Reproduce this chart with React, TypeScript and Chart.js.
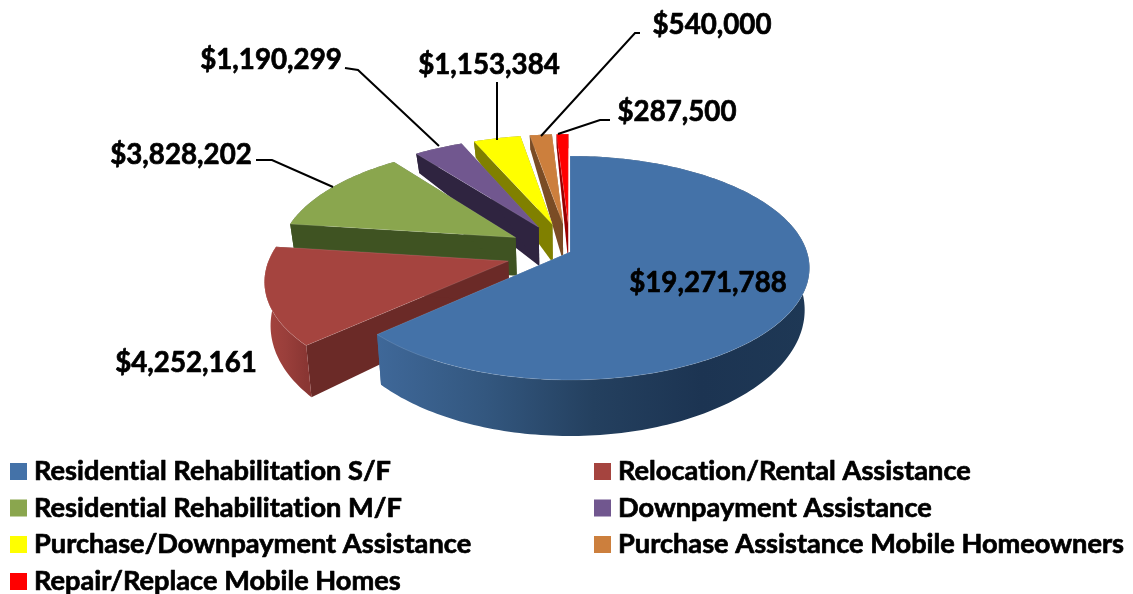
import { useEffect, useRef } from "react";
import { Chart, registerables } from "chart.js";

Chart.register(...registerables);

const categories = [
  "Residential Rehabilitation S/F",
  "Relocation/Rental Assistance",
  "Residential Rehabilitation M/F",
  "Downpayment Assistance",
  "Purchase/Downpayment Assistance",
  "Purchase Assistance Mobile Homeowners",
  "Repair/Replace Mobile Homes",
];
const amounts = [19271788, 4252161, 3828202, 1190299, 1153384, 540000, 287500];
const explosion = [0, 27, 27, 27, 27, 27, 27];
const topColors = ["#4472A8", "#A5443F", "#8AA64E", "#71578F", "#FFFF00", "#CC7F3D", "#FF0000"];
const sideColors = ["#3F6899", "#6B2A27", "#3F5322", "#2F2440", "#808000", "#7A4C25", "#990000"];
const wallStops = [
  ["#3F6899", "#33577F", "#24405F", "#1C3452", "#1E3855"],
  ["#A5443F", "#9A3F3B", "#8A3633"],
  ["#3F5322", "#3F5322"],
  ["#2F2440", "#2F2440"],
  ["#808000", "#808000"],
  ["#7A4C25", "#7A4C25"],
  ["#990000", "#990000"],
];

// projection of the pie plane to the page
const CX = 570, CY = 252, SX = 237, SY = 109.7, PERSP = 1 / 7;
const project = (u: number, v: number) => {
  const w = 1 - PERSP * v;
  return [CX + (SX * u) / w, CY + (SY * v) / w];
};
const depthAt = (y: number) =>
  y < 228 ? 20 + ((y - 156) * 19) / 72 : 37 + ((y - 228) * 19) / 152;
const drop = (p: number[]) => [CX + (p[0] - CX) * 0.98, p[1] + depthAt(p[1])];

const valueLabelLayout = [
  { x: 708, y: 283 },
  { x: 186, y: 363 },
  { x: 181, y: 155 },
  { x: 271, y: 60 },
  { x: 489, y: 65 },
  { x: 712, y: 25 },
  { x: 677, y: 112 },
];
const leaderLayout: (number[][] | null)[] = [
  null,
  null,
  [[256, 160], [272, 160], [333, 187]],
  [[345, 68], [358, 70], [439, 146]],
  [[497, 82], [497, 140]],
  [[640, 33], [635, 33], [541, 136]],
  [[610, 120], [600, 120], [558, 134]],
];
const legendLayout = [
  { x: 10, y: 471.5 },
  { x: 594, y: 471.5 },
  { x: 10, y: 508 },
  { x: 594, y: 508 },
  { x: 10, y: 544.5 },
  { x: 594, y: 544.5 },
  { x: 10, y: 581.5 },
];

const FONT_VALUE = "bold 27.7px Lato, sans-serif";
const FONT_LEGEND = "bold 27.2px Lato, sans-serif";

const pie3d = {
  id: "pie3d",
  beforeDatasetDraw(chart: any, args: any) {
    const ctx: CanvasRenderingContext2D = chart.ctx;
    const meta = args.meta;
    const order = [...meta.data.keys()].reverse();
    ctx.save();
    for (const i of order) {
      const el = meta.data[i];
      const a0 = el.startAngle, a1 = el.endAngle;
      const k = explosion[i] / 100;
      const mid = (a0 + a1) / 2;
      const ou = k * Math.cos(mid), ov = k * Math.sin(mid);
      const n = Math.max(4, Math.ceil((a1 - a0) / 0.02));
      const arc: number[][] = [];
      for (let j = 0; j <= n; j++) {
        const t = a0 + ((a1 - a0) * j) / n;
        arc.push(project(ou + Math.cos(t), ov + Math.sin(t)));
      }
      const apex = project(ou, ov);
      const poly = (pts: number[][], fill: any) => {
        ctx.beginPath();
        pts.forEach((p, idx) => (idx ? ctx.lineTo(p[0], p[1]) : ctx.moveTo(p[0], p[1])));
        ctx.closePath();
        ctx.fillStyle = fill;
        ctx.fill();
      };
      // radial walls
      poly([apex, arc[0], drop(arc[0]), drop(apex)], sideColors[i]);
      poly([apex, arc[n], drop(arc[n]), drop(apex)], sideColors[i]);
      // outer wall
      const xs = arc.map((p) => p[0]);
      const g = ctx.createLinearGradient(Math.min(...xs), 0, Math.max(...xs), 0);
      wallStops[i].forEach((c, idx, all) => g.addColorStop(idx / (all.length - 1), c));
      poly([...arc, ...arc.map(drop).reverse()], g);
      // top face
      poly([apex, ...arc], topColors[i]);
      ctx.strokeStyle = "rgba(255,255,255,0.12)";
      ctx.lineWidth = 1;
      ctx.stroke();
    }
    ctx.restore();
    return false;
  },
  afterDraw(chart: any) {
    const ctx: CanvasRenderingContext2D = chart.ctx;
    ctx.save();
    ctx.strokeStyle = "#000000";
    ctx.lineWidth = 2;
    leaderLayout.forEach((pts) => {
      if (!pts) return;
      ctx.beginPath();
      pts.forEach((p, idx) => (idx ? ctx.lineTo(p[0], p[1]) : ctx.moveTo(p[0], p[1])));
      ctx.stroke();
    });
    (ctx as any).letterSpacing = "0.01px";
    ctx.lineJoin = "round";
    ctx.lineWidth = 0.7;
    ctx.fillStyle = "#000000";
    ctx.font = FONT_VALUE;
    ctx.textAlign = "center";
    ctx.textBaseline = "middle";
    amounts.forEach((v, i) => {
      const t = "$" + v.toLocaleString("en-US");
      ctx.fillText(t, valueLabelLayout[i].x, valueLabelLayout[i].y);
      ctx.strokeText(t, valueLabelLayout[i].x, valueLabelLayout[i].y);
    });
    ctx.font = FONT_LEGEND;
    ctx.textAlign = "left";
    categories.forEach((c, i) => {
      const { x, y } = legendLayout[i];
      ctx.fillStyle = topColors[i];
      ctx.fillRect(x, y - 8.5, 17, 17);
      ctx.fillStyle = "#000000";
      ctx.fillText(c, x + 24, y);
      ctx.strokeText(c, x + 24, y);
    });
    ctx.restore();
  },
};

export default function App() {
  const ref = useRef<HTMLCanvasElement>(null);
  useEffect(() => {
    document.body.style.margin = "0";
    const chart = new Chart(ref.current!, {
      type: "pie",
      data: {
        labels: categories,
        datasets: [{ data: amounts, backgroundColor: topColors, offset: explosion }],
      },
      options: {
        responsive: false,
        animation: false,
        plugins: { legend: { display: false }, tooltip: { enabled: false } },
      },
      plugins: [pie3d],
    } as any);
    return () => chart.destroy();
  }, []);
  return <canvas ref={ref} width={1133} height={594} style={{ display: "block" }} />;
}
